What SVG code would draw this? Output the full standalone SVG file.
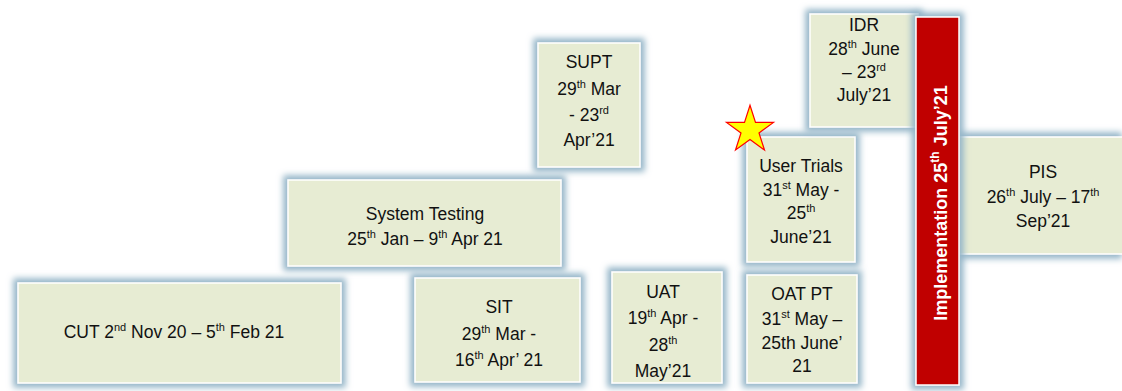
<svg xmlns="http://www.w3.org/2000/svg" width="1122" height="391" viewBox="0 0 1122 391">
<style>
.box{fill:#e7ecd3;stroke:#ffffff;stroke-width:1.5}
.red{fill:#c00000;stroke:#ffffff;stroke-width:1.5}
.t{font-family:"Liberation Sans",Arial,sans-serif;font-size:17.5px;fill:#111111;text-anchor:middle}
.s{font-size:11px}
.w{font-family:"Liberation Sans",Arial,sans-serif;font-size:18px;font-weight:bold;fill:#ffffff;text-anchor:middle}
</style>
<defs>
<filter id="glow" filterUnits="userSpaceOnUse" x="0" y="0" width="1122" height="391">
<feMorphology in="SourceAlpha" operator="dilate" radius="4" result="d"/>
<feGaussianBlur in="d" stdDeviation="3" result="b"/>
<feFlood flood-color="#94b5c8"/>
<feComposite in2="b" operator="in" result="s"/>
<feMerge><feMergeNode in="s"/><feMergeNode in="SourceGraphic"/></feMerge>
</filter>
</defs>
<g id="connectors"/>
<g id="cut">
<rect class="box" filter="url(#glow)" x="18" y="283" width="323" height="100"/>
<text class="t" x="174" y="338">CUT 2<tspan class="s" dy="-7">nd</tspan><tspan dy="7"> Nov 20 – 5</tspan><tspan class="s" dy="-7">th</tspan><tspan dy="7"> Feb 21</tspan></text>
</g>
<g id="system-testing">
<rect class="box" filter="url(#glow)" x="288" y="180" width="273" height="86"/>
<text class="t" x="425" y="220">System Testing</text>
<text class="t" x="425" y="245">25<tspan class="s" dy="-7">th</tspan><tspan dy="7"> Jan  – 9</tspan><tspan class="s" dy="-7">th</tspan><tspan dy="7"> Apr 21</tspan></text>
</g>
<g id="sit">
<rect class="box" filter="url(#glow)" x="415" y="278" width="165" height="104"/>
<text class="t" x="499" y="313">SIT</text>
<text class="t" x="499" y="340">29<tspan class="s" dy="-7">th</tspan><tspan dy="7"> Mar -</tspan></text>
<text class="t" x="499" y="366">16<tspan class="s" dy="-7">th</tspan><tspan dy="7"> Apr’ 21</tspan></text>
</g>
<g id="uat">
<rect class="box" filter="url(#glow)" x="612" y="272" width="110" height="111"/>
<text class="t" x="663" y="298">UAT</text>
<text class="t" x="663" y="324">19<tspan class="s" dy="-7">th</tspan><tspan dy="7"> Apr -</tspan></text>
<text class="t" x="663" y="351">28<tspan class="s" dy="-7">th</tspan></text>
<text class="t" x="663" y="377">May’21</text>
</g>
<g id="supt">
<rect class="box" filter="url(#glow)" x="538" y="43" width="102" height="124"/>
<text class="t" x="589" y="68">SUPT</text>
<text class="t" x="589" y="95">29<tspan class="s" dy="-7">th</tspan><tspan dy="7"> Mar</tspan></text>
<text class="t" x="589" y="121">- 23<tspan class="s" dy="-7">rd</tspan></text>
<text class="t" x="589" y="146">Apr’21</text>
</g>
<g id="user-trials">
<rect class="box" filter="url(#glow)" x="747" y="137" width="108" height="125"/>
<text class="t" x="801" y="172">User Trials</text>
<text class="t" x="801" y="196">31<tspan class="s" dy="-7">st</tspan><tspan dy="7"> May -</tspan></text>
<text class="t" x="801" y="219">25<tspan class="s" dy="-7">th</tspan></text>
<text class="t" x="801" y="243">June’21</text>
</g>
<g id="star">
<polygon points="750,105.3 755.5,122.4 773.5,122.4 759,132.9 764.5,150 750,139.4 735.5,150 741,132.9 726.5,122.4 744.5,122.4" fill="#ffff00" stroke="#ff0000" stroke-width="1.2"/>
</g>
<g id="oat-pt">
<rect class="box" filter="url(#glow)" x="747" y="275" width="110" height="108"/>
<text class="t" x="802" y="300">OAT PT</text>
<text class="t" x="802" y="325">31<tspan class="s" dy="-7">st</tspan><tspan dy="7"> May –</tspan></text>
<text class="t" x="802" y="349">25th June’</text>
<text class="t" x="802" y="372">21</text>
</g>
<g id="idr">
<rect class="box" filter="url(#glow)" x="810" y="14" width="108" height="113"/>
<text class="t" x="864" y="31">IDR</text>
<text class="t" x="864" y="55">28<tspan class="s" dy="-7">th</tspan><tspan dy="7"> June</tspan></text>
<text class="t" x="864" y="78">– 23<tspan class="s" dy="-7">rd</tspan></text>
<text class="t" x="864" y="101">July’21</text>
</g>
<g id="pis">
<rect class="box" filter="url(#glow)" x="959" y="137" width="170" height="117"/>
<text class="t" x="1043" y="178">PIS</text>
<text class="t" x="1043" y="203">26<tspan class="s" dy="-7">th</tspan><tspan dy="7"> July – 17</tspan><tspan class="s" dy="-7">th</tspan></text>
<text class="t" x="1043" y="227">Sep’21</text>
</g>
<g id="implementation">
<rect class="red" filter="url(#glow)" x="916" y="17" width="43" height="368"/>
<text class="w" transform="translate(947,203) rotate(-90)">Implementation 25<tspan font-size="12" dy="-8">th</tspan><tspan dy="8"> July’21</tspan></text>
</g>
</svg>
